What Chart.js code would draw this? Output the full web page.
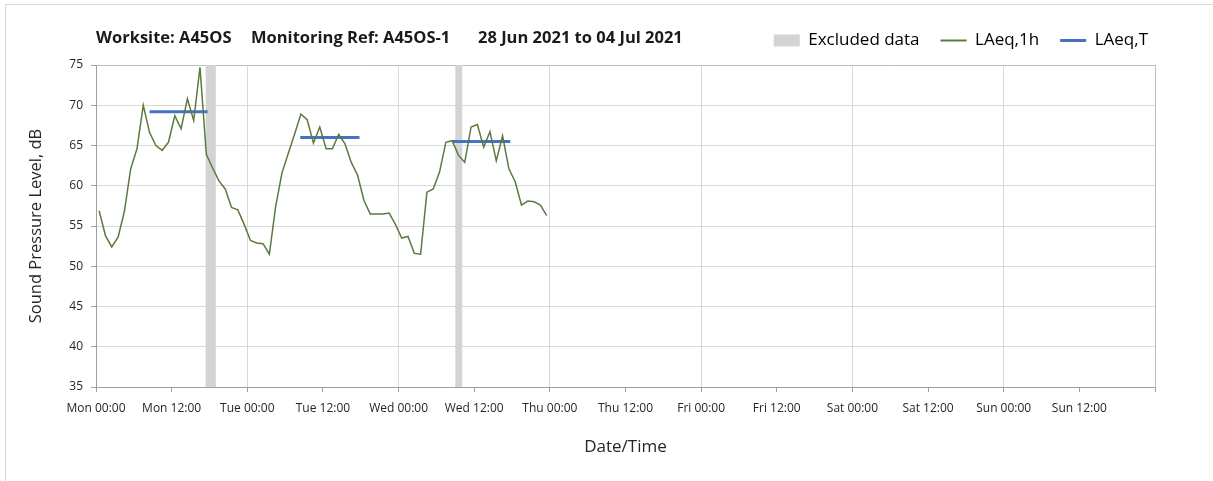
<!DOCTYPE html>
<html>
<head>
<meta charset="UTF-8">
<title>A45OS noise monitoring</title>
<script src="https://cdn.jsdelivr.net/npm/chart.js@4.4.1/dist/chart.umd.min.js"></script>
<style>
    body { margin: 0; background: #fff; font-family: "Open Sans", sans-serif; overflow: hidden; }
    #frame { position: absolute; left: 5px; top: 4px; width: 1400px; height: 700px;
             border-left: 1px solid #d9d9d9; border-top: 1px solid #d9d9d9; }
    #wrap { position: absolute; left: 0; top: 0; width: 1213px; height: 481px; }
    .ttl { position: absolute; top: 27px; line-height: 20px; font-size: 16.5px; font-weight: bold; color: #1a1a1a; white-space: nowrap; }
</style>
</head>
<body>
<div id="frame"></div>
<div id="wrap">
    <canvas id="chart" width="1213" height="481"></canvas>
</div>
<span class="ttl" style="left:96px">Worksite: A45OS</span>
<span class="ttl" style="left:251px">Monitoring Ref: A45OS-1</span>
<span class="ttl" style="left:478px">28 Jun 2021 to 04 Jul 2021</span>

<script>
// x axis is hours since Mon 00:00 (28 Jun 2021)
var tickLabels = ['Mon 00:00', 'Mon 12:00', 'Tue 00:00', 'Tue 12:00', 'Wed 00:00', 'Wed 12:00',
    'Thu 00:00', 'Thu 12:00', 'Fri 00:00', 'Fri 12:00', 'Sat 00:00', 'Sat 12:00', 'Sun 00:00', 'Sun 12:00'];

// hourly LAeq,1h, first value is the Mon 00:00-01:00 hour
var firstHour = 0.5;
var laeq1h = [
    56.9, 53.8, 52.4, 53.6, 56.8, 62.1, 64.6, 70.0, 66.6, 65.0, 64.4, 65.4,
    68.7, 67.1, 70.8, 68.1, 74.7, 63.9, 62.2, 60.6, 59.6, 57.3, 57.0, 55.2,
    53.2, 52.9, 52.8, 51.5, 57.4, 61.6, 64.0, 66.4, 68.9, 68.2, 65.3, 67.3,
    64.6, 64.6, 66.4, 65.2, 62.9, 61.3, 58.2, 56.5, 56.5, 56.5, 56.6, 55.2,
    53.5, 53.7, 51.6, 51.5, 59.2, 59.6, 61.7, 65.4, 65.6, 63.8, 62.9, 67.3,
    67.6, 64.8, 66.7, 63.1, 66.2, 62.1, 60.5, 57.6, 58.1, 58.0, 57.6, 56.3
];

// LAeq,T over the daytime periods
var periodStart = [8.5, 32.4, 56.5];
var periodEnd = [17.7, 41.8, 65.7];
var laeqT = [69.2, 66.0, 65.5];

// excluded data windows (hours)
var excludedStart = [17.4, 57.0];
var excludedEnd = [19.0, 58.1];

var green = '#5b7b3e';
var blue = '#4472c4';
var grey = '#d4d4d4';

var lineData = laeq1h.map(function (v, i) { return { x: firstHour + i, y: v }; });
var tData = [];
for (var i = 0; i < laeqT.length; i++) {
    tData.push({ x: periodStart[i], y: laeqT[i] });
    tData.push({ x: periodEnd[i], y: laeqT[i] });
    tData.push({ x: periodEnd[i], y: null });
}

var excludedBands = {
    id: 'excludedBands',
    beforeDatasetsDraw: function (chart) {
        var ctx = chart.ctx, xs = chart.scales.x, area = chart.chartArea;
        ctx.save();
        ctx.fillStyle = grey;
        for (var k = 0; k < excludedStart.length; k++) {
            var x0 = xs.getPixelForValue(excludedStart[k]);
            var x1 = xs.getPixelForValue(excludedEnd[k]);
            ctx.fillRect(x0, area.top, x1 - x0, area.bottom - area.top);
        }
        ctx.restore();
    }
};

Chart.defaults.font.family = '"Open Sans", sans-serif';
Chart.defaults.color = '#262626';

var ctx = document.getElementById('chart').getContext('2d');
var chart = new Chart(ctx, {
    type: 'line',
    data: {
        datasets: [{
            label: 'LAeq,1h',
            data: lineData,
            borderColor: green,
            borderWidth: 1.5,
            pointRadius: 0,
            tension: 0
        }, {
            label: 'LAeq,T',
            data: tData,
            borderColor: blue,
            borderWidth: 3,
            pointRadius: 0,
            spanGaps: false
        }]
    },
    options: {
        responsive: false,
        animation: false,
        devicePixelRatio: 1,
        layout: { padding: { top: 11, right: 44, bottom: 0, left: 0 } },
        plugins: {
            tooltip: { enabled: false },
            legend: {
                position: 'top',
                align: 'end',
                onClick: null,
                labels: {
                    usePointStyle: true,
                    pointStyleWidth: 26,
                    boxHeight: 12,
                    padding: 21,
                    color: '#262626',
                    font: { size: 17 },
                    generateLabels: function () {
                        return [
                            { text: 'Excluded data', fillStyle: grey, strokeStyle: grey, lineWidth: 0, pointStyle: 'rect', hidden: false },
                            { text: 'LAeq,1h', fillStyle: green, strokeStyle: green, lineWidth: 2, pointStyle: 'line', hidden: false, datasetIndex: 0 },
                            { text: 'LAeq,T', fillStyle: blue, strokeStyle: blue, lineWidth: 3, pointStyle: 'line', hidden: false, datasetIndex: 1 }
                        ];
                    }
                }
            }
        },
        scales: {
            x: {
                type: 'linear',
                min: 0,
                max: 168,
                afterFit: function (s) { s.height = 94; },
                ticks: {
                    stepSize: 12,
                    autoSkip: false,
                    maxRotation: 0,
                    padding: 9,
                    font: { size: 12 },
                    callback: function (v) { return tickLabels[v / 12] || ''; }
                },
                grid: {
                    color: function (c) { return c.tick && c.tick.value % 24 === 0 ? '#d9d9d9' : 'rgba(0,0,0,0)'; },
                    tickColor: '#a0a0a0',
                    tickLength: 5
                },
                border: { color: '#a0a0a0' },
                title: { display: true, text: 'Date/Time', font: { size: 17 }, padding: { top: 0, bottom: 24 } }
            },
            // spacer between legend and plot
            x2: {
                type: 'linear',
                position: 'top',
                afterFit: function (s) { s.height = 6; },
                ticks: { display: false },
                grid: { drawOnChartArea: false, drawTicks: false },
                border: { display: false }
            },
            y: {
                min: 35,
                max: 75,
                afterFit: function (s) { s.width = 96; },
                ticks: { stepSize: 5, padding: 8, font: { size: 12 } },
                grid: {
                    color: function (c) { return c.tick && c.tick.value === 75 ? '#bfbfbf' : '#d9d9d9'; },
                    tickColor: '#a0a0a0',
                    tickLength: 5
                },
                border: { color: '#a0a0a0' },
                title: { display: true, text: 'Sound Pressure Level, dB', font: { size: 16.5 }, padding: { top: 26, bottom: 0 } }
            },
            y2: {
                position: 'right',
                min: 35,
                max: 75,
                afterFit: function (s) { s.width = 14; },
                ticks: { display: false },
                grid: { drawOnChartArea: false, drawTicks: false },
                border: { color: '#bfbfbf' }
            }
        }
    },
    plugins: [excludedBands]
});
</script>
</body>
</html>
